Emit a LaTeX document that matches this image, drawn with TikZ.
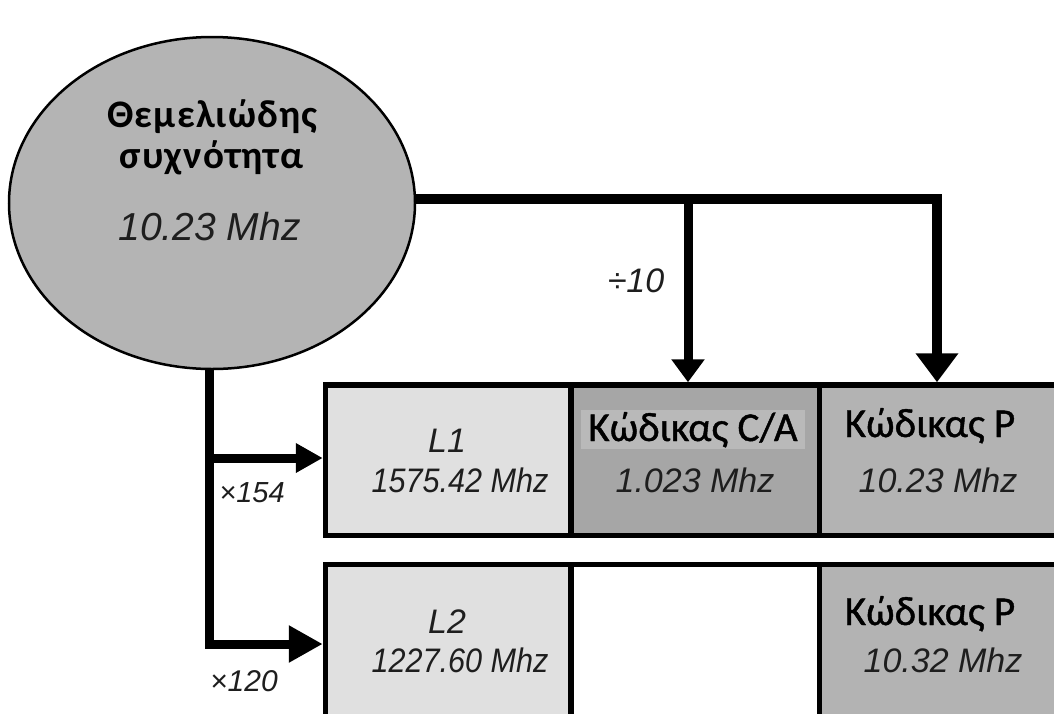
\documentclass[tikz,border=0pt]{standalone}
\usepackage{fontspec}
\usetikzlibrary{arrows.meta,shapes.geometric}
\newfontfamily\grkfont[FakeBold=1]{Carlito}
\newfontfamily\grkwide[LetterSpace=3]{Carlito}
\newfontfamily\arialf{Liberation Sans}
\definecolor{circfill}{HTML}{B4B4B4}
\definecolor{lcell}{HTML}{E0E0E0}
\definecolor{cacell}{HTML}{A6A6A6}
\definecolor{pcell}{HTML}{B3B3B3}
\definecolor{hlgray}{HTML}{B9B9B9}
\definecolor{txtgray}{HTML}{1E1E1E}
\tikzset{
  cell/.style={draw=black, line width=5.5, rectangle, inner sep=0, outer sep=0},
  conn/.style={line width=9, line join=miter, draw=black},
  grklbl/.style={font=\fontsize{41}{46}\selectfont\grkfont, anchor=base, inner sep=0, text=black},
  grktitle/.style={font=\fontsize{39}{44}\selectfont\grkwide\bfseries, anchor=base, inner sep=0, text=black},
  numlbl/.style={font=\fontsize{34}{40}\selectfont\arialf\itshape, anchor=base, inner sep=0, text=txtgray},
  oplbl/.style={font=\fontsize{30}{36}\selectfont\arialf\itshape, anchor=base, inner sep=0, text=txtgray},
}
\begin{document}
\begin{tikzpicture}[x=1pt,y=-1pt]
\useasboundingbox (0,0) rectangle (1054,713);
\clip (0,0) rectangle (1054,713);
\fill[white] (0,0) rectangle (1054,713);
% cells row 1
\node[cell, fill=lcell, minimum width=245.5, minimum height=150.5] (L1c) at (448.25,460.25) {};
\node[cell, fill=cacell, minimum width=248.5, minimum height=150.5] (CAc) at (695.25,460.25) {};
\node[cell, fill=pcell, minimum width=260.5, minimum height=150.5] (P1c) at (949.75,460.25) {};
% cells row 2
\node[cell, fill=lcell, minimum width=245.5, minimum height=160.5] (L2c) at (448.25,644.75) {};
\node[cell, fill=white, minimum width=248.5, minimum height=160.5] (E2c) at (695.25,644.75) {};
\node[cell, fill=pcell, minimum width=260.5, minimum height=160.5] (P2c) at (949.75,644.75) {};
% oscillator
\node[ellipse, draw=black, line width=2.5, fill=circfill, minimum width=406, minimum height=332, inner sep=0] (osc) at (212,203) {};
\node[grktitle] (t1) at (212.5,127) {Θεμελιώδης};
\node[grktitle] (t2) at (211.5,168) {συχνότητα};
\node[numlbl, font=\fontsize{39}{44}\selectfont\arialf\itshape] (t3) at (209.5,240) {10.23 Mhz};
% connector end points
\coordinate (caIn) at (688,382.25);
\coordinate (pIn) at (937,382.25);
\coordinate (l1In) at (322.75,458);
\coordinate (l2In) at (322.75,644);
\draw[conn, line width=10, -{Triangle[length=29pt,width=41pt]}] (osc.1) -| (pIn);
\draw[conn, -{Triangle[length=23pt,width=32pt]}] (osc.1 -| caIn) -- (caIn);
\draw[conn, -{Triangle[length=34pt,width=35pt]}] (osc.-91) |- (l2In);
\draw[conn, -{Triangle[length=27pt,width=28pt]}] (osc.-91 |- l1In) -- (l1In);
% operation labels
\node[oplbl, font=\fontsize{34}{40}\selectfont\arialf\itshape] (div) at (636,292) {÷10};
\node[oplbl, font=\fontsize{29}{34}\selectfont\arialf\itshape] (m154) at (252,502) {×154};
\node[oplbl] (m120) at (244,691) {×120};
% row 1 texts
\node[numlbl] (l1a) at (447,452) {L1};
\node[numlbl] (l1b) at (460,492) {\scalebox{0.9}[1]{1575.42 Mhz}};
\node[grklbl, fill=hlgray, inner xsep=7, inner ysep=2] (ca1) at (693,441) {Κώδικας C/A};
\node[numlbl] (ca2) at (695,492) {1.023 Mhz};
\node[grklbl] (p1a) at (930,437) {Κώδικας P};
\node[numlbl] (p1b) at (938,492) {10.23 Mhz};
% row 2 texts
\node[numlbl] (l2a) at (447,633) {L2};
\node[numlbl] (l2b) at (460,672) {\scalebox{0.9}[1]{1227.60 Mhz}};
\node[grklbl] (p2a) at (930,625) {Κώδικας P};
\node[numlbl] (p2b) at (943,672) {10.32 Mhz};
\end{tikzpicture}
\end{document}
